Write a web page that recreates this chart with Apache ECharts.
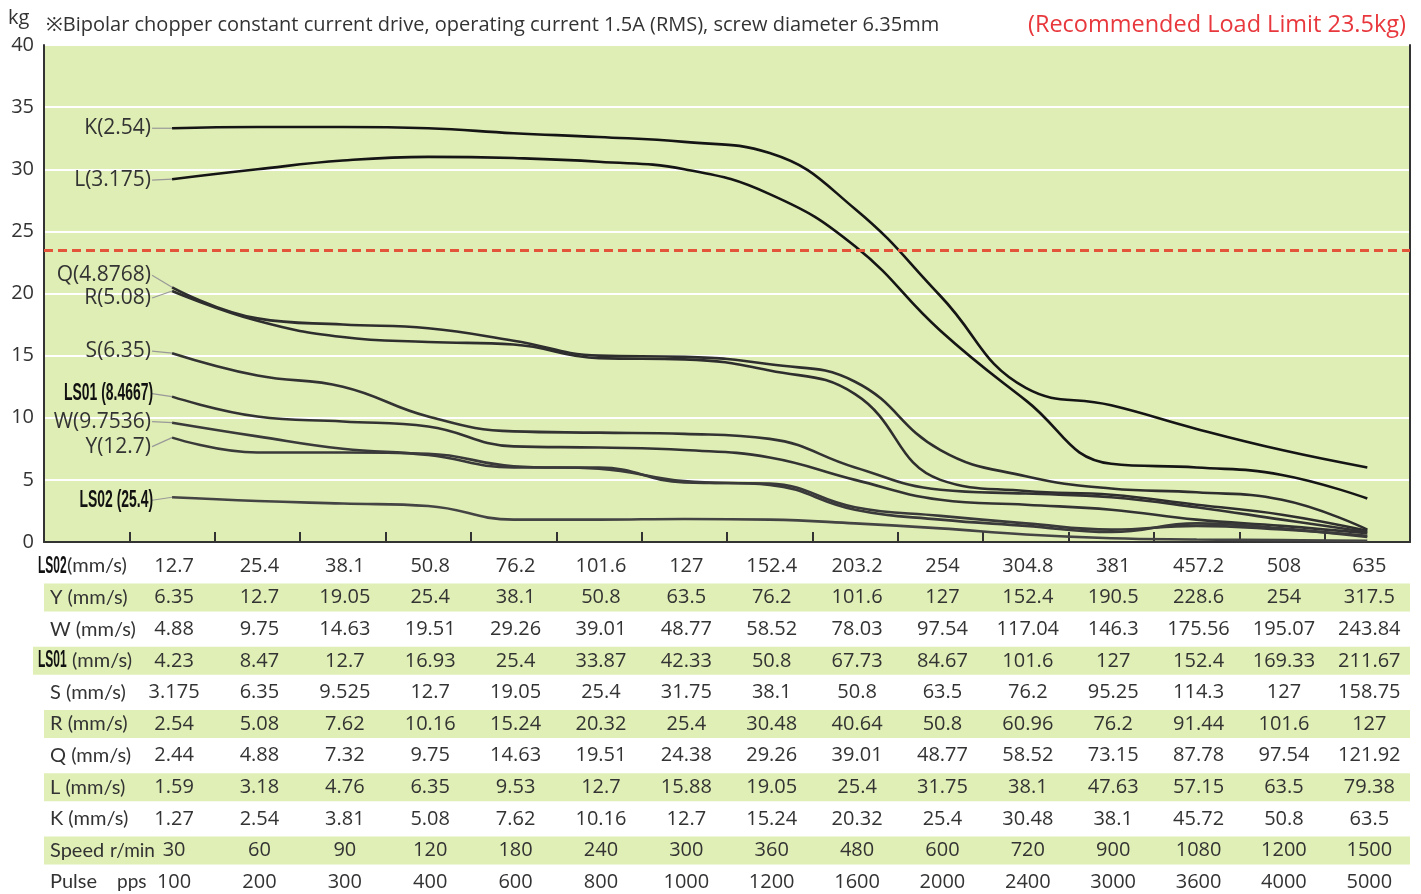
<!DOCTYPE html>
<html><head><meta charset="utf-8">
<script src="https://cdn.jsdelivr.net/npm/echarts@6/dist/echarts.min.js"></script>
<style>html,body{margin:0;padding:0;background:#fff}#c{width:1421px;height:894px}</style>
</head><body><div id="c"></div>
<script>
// ---------- DATA ----------
const categories = ['', '100','200','300','400','600','800','1000','1200','1600','2000','2400','3000','3600','4000','5000'];
const yTicks = [0, 5, 10, 15, 20, 25, 30, 35, 40];
const LIMIT = 23.5;

const K    = [33.3, 33.4, 33.4, 33.3, 32.9, 32.6, 32.2, 31.3, 26.8, 19.8, 12.4, 11.0, 9.1, 7.4, 6.0];
const L    = [29.2, 30.0, 30.7, 31.0, 30.9, 30.6, 30.0, 28.0, 23.8, 17.0, 11.4, 6.3, 6.0, 5.4, 3.5];
const Q    = [20.5, 18.0, 17.5, 17.2, 16.2, 15.0, 14.9, 14.3, 12.9, 7.4, 5.3, 4.3, 4.0, 3.4, 1.0];
const R    = [20.2, 17.8, 16.5, 16.1, 15.9, 14.8, 14.7, 13.8, 11.9, 5.0, 4.1, 3.8, 3.0, 2.2, 0.9];
const S    = [15.2, 13.4, 12.5, 10.1, 8.9, 8.8, 8.7, 8.3, 6.0, 4.2, 3.9, 3.6, 2.8, 1.8, 0.8];
const LS01 = [11.7, 10.1, 9.7, 9.3, 7.7, 7.6, 7.4, 6.8, 5.0, 3.4, 3.0, 2.6, 1.8, 1.3, 0.7];
const W    = [9.6, 8.5, 7.5, 7.0, 6.0, 6.0, 4.8, 4.7, 2.8, 2.1, 1.5, 1.0, 1.3, 1.0, 0.5];
const Y    = [8.4, 7.2, 7.2, 7.1, 6.1, 5.9, 4.9, 4.6, 2.6, 1.8, 1.3, 0.8, 1.5, 1.1, 0.4];
const LS02 = [3.6, 3.3, 3.1, 2.9, 1.8, 1.8, 1.85, 1.8, 1.5, 1.1, 0.6, 0.3, 0.2, 0.15, 0.1];

const curveNames = ['K(2.54)', 'L(3.175)', 'Q(4.8768)', 'R(5.08)', 'S(6.35)', 'LS01 (8.4667)', 'W(9.7536)', 'Y(12.7)', 'LS02 (25.4)'];

// row label: [main part, unit part]
const rowLabels = [['LS02', '(mm/s)'], ['Y (mm/s)', ''], ['W (mm/s)', ''], ['LS01', ' (mm/s)'], ['S (mm/s)', ''], ['R (mm/s)', ''], ['Q (mm/s)', ''], ['L (mm/s)', ''], ['K (mm/s)', ''], ['Speed', 'r/min'], ['Pulse', 'pps']];
const rowLS02  = ['12.7','25.4','38.1','50.8','76.2','101.6','127','152.4','203.2','254','304.8','381','457.2','508','635'];
const rowY     = ['6.35','12.7','19.05','25.4','38.1','50.8','63.5','76.2','101.6','127','152.4','190.5','228.6','254','317.5'];
const rowW     = ['4.88','9.75','14.63','19.51','29.26','39.01','48.77','58.52','78.03','97.54','117.04','146.3','175.56','195.07','243.84'];
const rowLS01  = ['4.23','8.47','12.7','16.93','25.4','33.87','42.33','50.8','67.73','84.67','101.6','127','152.4','169.33','211.67'];
const rowS     = ['3.175','6.35','9.525','12.7','19.05','25.4','31.75','38.1','50.8','63.5','76.2','95.25','114.3','127','158.75'];
const rowR     = ['2.54','5.08','7.62','10.16','15.24','20.32','25.4','30.48','40.64','50.8','60.96','76.2','91.44','101.6','127'];
const rowQ     = ['2.44','4.88','7.32','9.75','14.63','19.51','24.38','29.26','39.01','48.77','58.52','73.15','87.78','97.54','121.92'];
const rowL     = ['1.59','3.18','4.76','6.35','9.53','12.7','15.88','19.05','25.4','31.75','38.1','47.63','57.15','63.5','79.38'];
const rowK     = ['1.27','2.54','3.81','5.08','7.62','10.16','12.7','15.24','20.32','25.4','30.48','38.1','45.72','50.8','63.5'];
const rowSpeed = ['30','60','90','120','180','240','300','360','480','600','720','900','1080','1200','1500'];
const rowPulse = ['100','200','300','400','600','800','1000','1200','1600','2000','2400','3000','3600','4000','5000'];

const titleText = '※Bipolar chopper constant current drive, operating current 1.5A (RMS), screw diameter 6.35mm';
const limitText = '(Recommended Load Limit 23.5kg)';

// ---------- CHART ----------
const FONT = '"Open Sans", "Noto Sans", sans-serif';
const LFONT = 'Lato, "Open Sans", sans-serif';
const NARROW = '"Liberation Sans", Arial, sans-serif';
const curves = [K, L, Q, R, S, LS01, W, Y, LS02];
const labelDy = [0, 1, -12, 7, -2, -3, -1, 9, 3];
const curveColor = ['#151515', '#151515', '#2e2e2e', '#2e2e2e', '#333', '#333', '#3a3a3a', '#3a3a3a', '#444'];
const rows = [rowLS02, rowY, rowW, rowLS01, rowS, rowR, rowQ, rowL, rowK, rowSpeed, rowPulse];

const chart = echarts.init(document.getElementById('c'));
const series = curves.map((vals, i) => {
  const s = {
    name: curveNames[i], type: 'line', smooth: 0.45, symbol: 'none',
    data: [null].concat(vals), z: 3,
    lineStyle: {color: curveColor[i], width: 2.6}
  };
  if (i === 0) {
    s.markLine = {
      silent: true, symbol: ['none', 'none'], label: {show: false},
      lineStyle: {color: '#e4543a', type: [9, 5], width: 3},
      data: [{yAxis: LIMIT}]
    };
  }
  return s;
});

chart.setOption({
  animation: false,
  grid: {left: 44, right: 11, top: 45, bottom: 352, show: true, backgroundColor: '#dfeeb4', borderWidth: 0},
  xAxis: {
    type: 'category', data: categories, boundaryGap: true,
    axisLine: {lineStyle: {color: '#333', width: 2}},
    axisTick: {show: true, inside: true, length: 10, interval: 0, lineStyle: {color: '#333', width: 2}},
    axisLabel: {show: false}, splitLine: {show: false}
  },
  yAxis: [{
    type: 'value', min: yTicks[0], max: yTicks[yTicks.length - 1], interval: 5,
    axisLine: {show: true, lineStyle: {color: '#333', width: 2}},
    axisTick: {show: false},
    axisLabel: {fontSize: 20, color: '#333', margin: 10, fontFamily: FONT},
    splitLine: {lineStyle: {color: '#ffffff', width: 2}}
  }, {
    type: 'value', min: 0, max: 40, interval: 5, position: 'right',
    axisLine: {show: true, lineStyle: {color: '#333', width: 2}},
    axisTick: {show: false}, axisLabel: {show: false}, splitLine: {show: false}
  }],
  series: series
});

// ---------- GRAPHIC (titles, curve labels, table) ----------
const px = i => chart.convertToPixel({xAxisIndex: 0}, categories[i + 1]);
const py = v => chart.convertToPixel({yAxisIndex: 0}, v);
const gLeft = 44, gRight = 1410;
const g = [];

g.push({type: 'text', style: {text: 'kg', x: 8, y: 18, fill: '#333', fontSize: 20, fontFamily: FONT, verticalAlign: 'middle'}});
g.push({type: 'text', style: {text: titleText, x: 46, y: 25, fill: '#333', fontSize: 20, fontFamily: FONT, verticalAlign: 'middle'}});
g.push({type: 'text', style: {text: limitText, x: 1406, y: 25, fill: '#e8383d', fontSize: 23.5, fontFamily: FONT, align: 'right', verticalAlign: 'middle'}});

// curve labels with leader lines
curves.forEach((vals, i) => {
  const x0 = px(0), y0 = py(vals[0]);
  const ly = y0 + labelDy[i];
  const isLS = curveNames[i].indexOf('LS') === 0;
  g.push({type: 'line', shape: {x1: x0 - 20, y1: ly, x2: x0, y2: y0}, style: {stroke: '#999', lineWidth: 1.2}, z: 10});
  if (isLS) {
    g.push({type: 'text', x: x0 - 19, y: ly, scaleX: 0.58, scaleY: 1,
      style: {text: curveNames[i], x: 0, y: 0, fill: '#111', fontSize: 24, fontWeight: 'bold', fontFamily: NARROW, align: 'right', verticalAlign: 'middle'}, z: 10});
  } else {
    g.push({type: 'text', style: {text: curveNames[i], x: x0 - 21, y: ly, fill: '#333', fontSize: 21, fontFamily: FONT, align: 'right', verticalAlign: 'middle'}, z: 10});
  }
});

// table
const row0 = 566, rowStep = 31.6;
rows.forEach((vals, r) => {
  const cy = row0 + r * rowStep;
  if (r % 2 === 1) {
    const lx = r === 3 ? 33 : gLeft;
    g.push({type: 'rect', shape: {x: lx, y: cy - 14, width: gRight - lx, height: 28}, style: {fill: '#e0efb6'}, z: 1});
  }
  const lab = rowLabels[r];
  if (lab[0].indexOf('LS') === 0) {
    g.push({type: 'text', x: 38, y: cy, scaleX: 0.5,
      style: {text: lab[0], x: 0, y: 0, fill: '#111', fontSize: 24, fontWeight: 'bold', fontFamily: NARROW, verticalAlign: 'middle'}, z: 5});
    g.push({type: 'text', style: {text: lab[1], x: 67, y: cy, fill: '#333', fontSize: 20, fontFamily: LFONT, verticalAlign: 'middle'}, z: 5});
  } else if (lab[1]) {
    g.push({type: 'text', style: {text: lab[0], x: 50, y: cy, fill: '#333', fontSize: 20, fontFamily: LFONT, verticalAlign: 'middle'}, z: 5});
    g.push({type: 'text', style: {text: lab[1], x: r === 9 ? 110 : 117, y: cy, fill: '#333', fontSize: 19, fontFamily: LFONT, verticalAlign: 'middle'}, z: 5});
  } else {
    g.push({type: 'text', style: {text: lab[0], x: 50, y: cy, fill: '#333', fontSize: 20, fontFamily: LFONT, verticalAlign: 'middle'}, z: 5});
  }
  vals.forEach((t, i) => {
    g.push({type: 'text', style: {text: t, x: px(i) + 2, y: cy, fill: '#333', fontSize: 20, fontFamily: FONT, align: 'center', verticalAlign: 'middle'}, z: 5});
  });
});

chart.setOption({graphic: g});
</script>
</body></html>
